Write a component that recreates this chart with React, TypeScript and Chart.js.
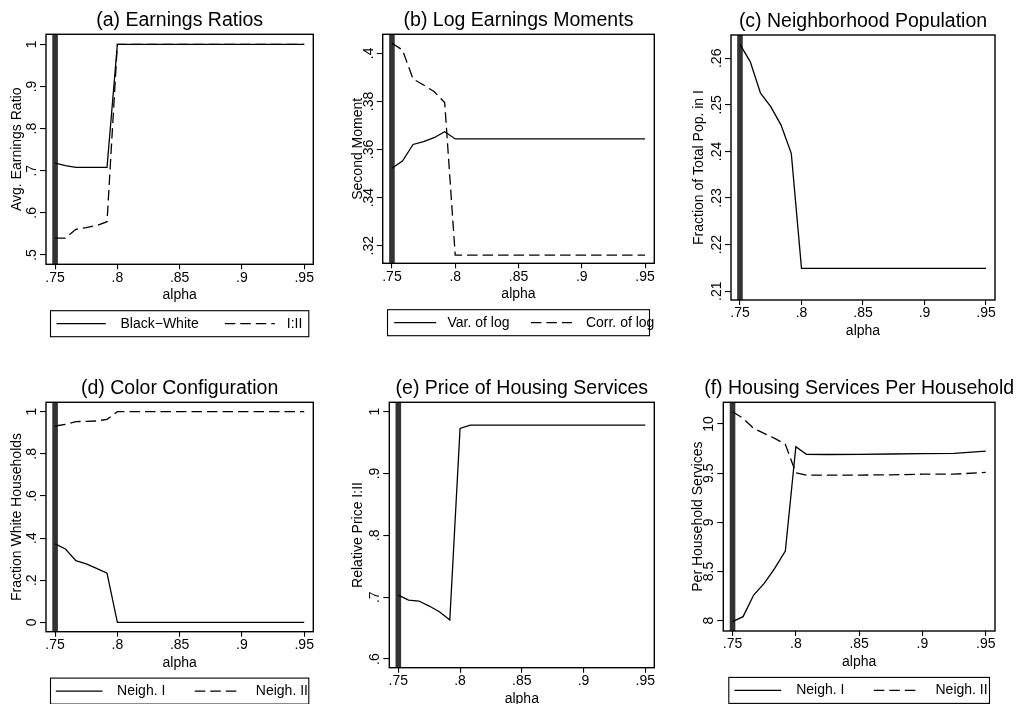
import React, { useEffect, useRef } from "react";
import { Chart, registerables } from "chart.js";

Chart.register(...registerables);

const FONT = '"Liberation Sans", Arial, Helvetica, sans-serif';

// ---------- data ----------
const ALPHA = [0.75, 0.7583, 0.7667, 0.775, 0.7833, 0.7917, 0.8, 0.8083, 0.825, 0.85, 0.875, 0.9, 0.925, 0.95];
const X_TICKS = [0.75, 0.8, 0.85, 0.9, 0.95];
const X_LINE = 0.75;

// (a) Earnings Ratios
const EARN_BLACK_WHITE = [0.718, 0.712, 0.708, 0.708, 0.708, 0.708, 1, 1, 1, 1, 1, 1, 1, 1];
const EARN_I_II = [0.54, 0.54, 0.561, 0.565, 0.57, 0.579, 1, 1, 1, 1, 1, 1, 1, 1];
const EARN_Y_TICKS = [0.5, 0.6, 0.7, 0.8, 0.9, 1];

// (b) Log Earnings Moments
const VAR_OF_LOG = [0.3522, 0.3552, 0.3621, 0.3633, 0.3649, 0.3674, 0.3644, 0.3644, 0.3644, 0.3644, 0.3644, 0.3644, 0.3644, 0.3644];
const CORR_OF_LOG = [0.4042, 0.4014, 0.3893, 0.3868, 0.3841, 0.3795, 0.3161, 0.3161, 0.3161, 0.3161, 0.3161, 0.3161, 0.3161, 0.3161];
const MOMENT_Y_TICKS = [0.32, 0.34, 0.36, 0.38, 0.4];

// (c) Neighborhood Population
const POP_SHARE_I = [0.263, 0.2593, 0.2525, 0.2496, 0.2457, 0.2396, 0.2149, 0.2149, 0.2149, 0.2149, 0.2149, 0.2149, 0.2149, 0.2149];
const POP_Y_TICKS = [0.21, 0.22, 0.23, 0.24, 0.25, 0.26];

// (d) Color Configuration
const WHITE_NEIGH_I = [0.372, 0.348, 0.293, 0.277, 0.256, 0.233, 0, 0, 0, 0, 0, 0, 0, 0];
const WHITE_NEIGH_II = [0.932, 0.94, 0.953, 0.954, 0.956, 0.964, 1, 1, 1, 1, 1, 1, 1, 1];
const COLOR_Y_TICKS = [0, 0.2, 0.4, 0.6, 0.8, 1];

// (e) Price of Housing Services
const PRICE_I_II = [0.7035, 0.6954, 0.6938, 0.6857, 0.6765, 0.6631, 0.973, 0.9784, 0.9784, 0.9784, 0.9784, 0.9784, 0.9784, 0.9784];
const PRICE_Y_TICKS = [0.6, 0.7, 0.8, 0.9, 1];

// (f) Housing Services Per Household
const HOUSING_NEIGH_I = [7.99, 8.041, 8.261, 8.38, 8.532, 8.708, 9.769, 9.692, 9.69, 9.692, 9.695, 9.7, 9.702, 9.725];
const HOUSING_NEIGH_II = [10.125, 10.058, 9.956, 9.905, 9.854, 9.793, 9.505, 9.481, 9.48, 9.481, 9.483, 9.49, 9.49, 9.508];
const HOUSING_Y_TICKS = [8, 8.5, 9, 9.5, 10];

// ---------- layout / style ----------
const X_RANGE = [0.7427, 0.9573];
const X_AXIS_H = 39.4;
const DASH = [10.5, 5];

type Series = { label: string; data: number[]; dash: boolean };
type Panel = {
  key: string;
  title: string;
  yTitle: string;
  yTicks: number[];
  yRange: [number, number];
  series: Series[];
  canvas: [number, number, number, number];
  box: [number, number, number, number];
  yTitleX: number;
  legend?: { w: number; items: [number, number, number][] };
};

const PANELS: Panel[] = [
  {
    key: "a",
    title: "(a) Earnings Ratios",
    yTitle: "Avg. Earnings Ratio",
    yTicks: EARN_Y_TICKS,
    yRange: [0.478, 1.0237],
    series: [
      { label: "Black\u2212White", data: EARN_BLACK_WHITE, dash: false },
      { label: "I:II", data: EARN_I_II, dash: true },
    ],
    canvas: [0, 0, 340, 345],
    box: [46, 34.3, 313.3, 264.3],
    yTitleX: 17.2,
    legend: { w: 258.3, items: [[6, 49.3, 70], [174.3, 50, 236.3]] },
  },
  {
    key: "b",
    title: "(b) Log Earnings Moments",
    yTitle: "Second Moment",
    yTicks: MOMENT_Y_TICKS,
    yRange: [0.3127, 0.4079],
    series: [
      { label: "Var. of log", data: VAR_OF_LOG, dash: false },
      { label: "Corr. of log", data: CORR_OF_LOG, dash: true },
    ],
    canvas: [340, 0, 340, 345],
    box: [382.7, 34.3, 654.3, 263.3],
    yTitleX: 18.5,
    legend: { w: 262, items: [[6.7, 42, 60], [143.4, 41, 198.4]] },
  },
  {
    key: "c",
    title: "(c) Neighborhood Population",
    yTitle: "Fraction of Total Pop. in I",
    yTicks: POP_Y_TICKS,
    yRange: [0.2081, 0.265],
    series: [{ label: "Neigh. I", data: POP_SHARE_I, dash: false }],
    canvas: [680, 0, 341, 345],
    box: [731, 35, 995, 300],
    yTitleX: 18.7,
  },
  {
    key: "d",
    title: "(d) Color Configuration",
    yTitle: "Fraction White Households",
    yTicks: COLOR_Y_TICKS,
    yRange: [-0.0446, 1.0446],
    series: [
      { label: "Neigh. I", data: WHITE_NEIGH_I, dash: false },
      { label: "Neigh. II", data: WHITE_NEIGH_II, dash: true },
    ],
    canvas: [0, 345, 340, 370],
    box: [46, 402.3, 313.3, 631.7],
    yTitleX: 17,
    legend: { w: 258.3, items: [[5.3, 46.7, 66.6], [144.3, 45, 205.3]] },
  },
  {
    key: "e",
    title: "(e) Price of Housing Services",
    yTitle: "Relative Price I:II",
    yTicks: PRICE_Y_TICKS,
    yRange: [0.586, 1.0152],
    series: [{ label: "I:II", data: PRICE_I_II, dash: false }],
    canvas: [340, 345, 340, 370],
    box: [389.3, 402.3, 654.3, 667.7],
    yTitleX: 17.7,
  },
  {
    key: "f",
    title: "(f) Housing Services Per Household",
    yTitle: "Per Household Services",
    yTicks: HOUSING_Y_TICKS,
    yRange: [7.895, 10.221],
    series: [
      { label: "Neigh. I", data: HOUSING_NEIGH_I, dash: false },
      { label: "Neigh. II", data: HOUSING_NEIGH_II, dash: true },
    ],
    canvas: [680, 345, 341, 370],
    box: [723.3, 402.3, 995, 631],
    yTitleX: 17.7,
    legend: { w: 260.7, items: [[5.7, 46.7, 67.4], [145, 46.4, 206.7]] },
  },
];

const fmt = (v: number) => {
  let s = String(+Number(v).toFixed(4));
  if (s.startsWith("0.")) s = s.slice(1);
  if (s.startsWith("-0.")) s = "-" + s.slice(2);
  return s;
};

function makeDecor(p: Panel) {
  return {
    id: "decor_" + p.key,
    afterDraw(chart: any) {
      const { ctx, chartArea: ca, scales } = chart;
      ctx.save();
      ctx.setLineDash([]);
      ctx.strokeStyle = "#000";
      ctx.lineWidth = 1.4;
      ctx.strokeRect(ca.left, ca.top, ca.right - ca.left, ca.bottom - ca.top);

      // rotated y tick labels
      ctx.fillStyle = "#000";
      ctx.font = `14px ${FONT}`;
      const ys = scales.y;
      ys.ticks.forEach((t: any) => {
        const py = ys.getPixelForValue(t.value);
        ctx.save();
        ctx.translate(ca.left - 10, py);
        ctx.rotate(-Math.PI / 2);
        ctx.textAlign = "center";
        ctx.textBaseline = "alphabetic";
        ctx.fillText(fmt(t.value), 0, 0);
        ctx.restore();
      });

      // title
      ctx.font = `19.5px ${FONT}`;
      ctx.textAlign = "center";
      ctx.textBaseline = "alphabetic";
      ctx.fillText(p.title, (ca.left + ca.right) / 2, ca.top - 8);

      // legend
      if (p.legend) {
        const lg = p.legend;
        const x0 = (ca.left + ca.right) / 2 - lg.w / 2;
        const top = ca.bottom + 46.4;
        const h = 26;
        ctx.lineWidth = 1.1;
        ctx.strokeRect(x0, top, lg.w, h);
        const my = top + h / 2;
        p.series.forEach((s, i) => {
          const [off, len, toff] = lg.items[i];
          ctx.setLineDash(s.dash ? DASH : []);
          ctx.lineWidth = 1.3;
          ctx.beginPath();
          ctx.moveTo(x0 + off, my);
          ctx.lineTo(x0 + off + len, my);
          ctx.stroke();
          ctx.setLineDash([]);
          ctx.font = `14px ${FONT}`;
          ctx.textAlign = "left";
          ctx.textBaseline = "middle";
          ctx.fillText(s.label, x0 + toff, my);
        });
      }
      ctx.restore();
    },
  };
}

function PanelChart({ p }: { p: Panel }) {
  const ref = useRef<HTMLCanvasElement | null>(null);
  useEffect(() => {
    if (!ref.current) return;
    const [cx, cy, cw, ch] = p.canvas;
    const [L, T, R, B] = p.box;
    const [yMin, yMax] = p.yRange;
    const datasets: any[] = p.series.map((s) => ({
      label: s.label,
      data: ALPHA.map((a, i) => ({ x: a, y: s.data[i] })),
      borderColor: "#000",
      borderWidth: 1.3,
      borderDash: s.dash ? DASH : [],
      pointRadius: 0,
      tension: 0,
      fill: false,
      order: 0,
    }));
    datasets.push({
      label: "xline",
      data: [
        { x: X_LINE, y: yMin },
        { x: X_LINE, y: yMax },
      ],
      borderColor: "#333333",
      borderWidth: 5.6,
      borderCapStyle: "butt",
      pointRadius: 0,
      fill: false,
      order: 10,
    });
    const tickFont = { family: FONT, size: 14 };
    const chart = new Chart(ref.current, {
      type: "line",
      data: { datasets },
      plugins: [makeDecor(p)],
      options: {
        responsive: false,
        animation: false,
        devicePixelRatio: 1,
        layout: {
          padding: {
            left: 0,
            top: T - cy,
            right: cx + cw - R,
            bottom: cy + ch - B - X_AXIS_H,
          },
        },
        plugins: {
          legend: { display: false },
          tooltip: { enabled: false },
          title: { display: false },
        },
        scales: {
          x: {
            type: "linear",
            min: X_RANGE[0],
            max: X_RANGE[1],
            afterBuildTicks: (s: any) => {
              s.ticks = X_TICKS.map((v) => ({ value: v }));
            },
            afterFit: (s: any) => {
              s.height = X_AXIS_H;
            },
            ticks: {
              callback: (v: any) => fmt(Number(v)),
              font: tickFont,
              color: "#000",
              padding: 0,
              maxRotation: 0,
              minRotation: 0,
              autoSkip: false,
            },
            grid: { drawOnChartArea: false, drawTicks: true, tickLength: 5, color: "#000", lineWidth: 1.1 },
            border: { display: false },
            title: { display: true, text: "alpha", font: tickFont, color: "#000", padding: 0 },
          },
          y: {
            type: "linear",
            min: yMin,
            max: yMax,
            afterBuildTicks: (s: any) => {
              s.ticks = p.yTicks.map((v) => ({ value: v }));
            },
            afterFit: (s: any) => {
              s.width = L - cx;
            },
            ticks: { display: false },
            grid: { drawOnChartArea: false, drawTicks: true, tickLength: 6, color: "#000", lineWidth: 1.1 },
            border: { display: false },
            title: {
              display: true,
              text: p.yTitle,
              font: tickFont,
              color: "#000",
              padding: { top: p.yTitleX - 8.4, bottom: 0 },
            },
          },
        },
      } as any,
    });
    return () => chart.destroy();
  }, [p]);
  const [cx, cy, cw, ch] = p.canvas;
  return (
    <canvas
      ref={ref}
      width={cw}
      height={ch}
      style={{ position: "absolute", left: cx, top: cy, width: cw, height: ch }}
    />
  );
}

export default function App() {
  return (
    <div
      style={{
        position: "absolute",
        left: 0,
        top: 0,
        width: 1021,
        height: 704,
        overflow: "hidden",
        background: "#fff",
      }}
    >
      {PANELS.map((p) => (
        <PanelChart key={p.key} p={p} />
      ))}
    </div>
  );
}
